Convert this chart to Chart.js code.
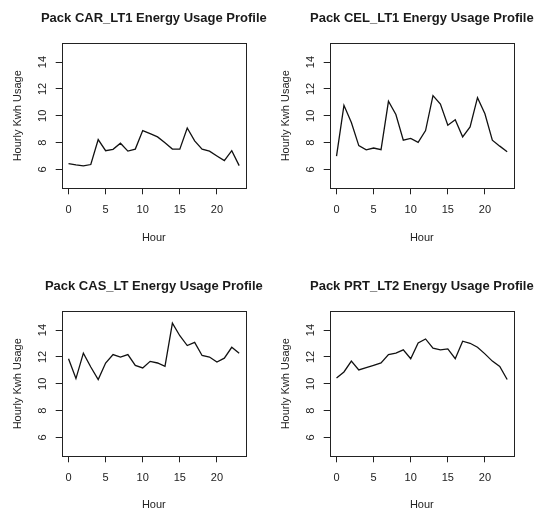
<!DOCTYPE html>
<html>
<head>
<meta charset="utf-8">
<title>Pack Energy Usage Profiles</title>
<script src="https://cdn.jsdelivr.net/npm/chart.js"></script>
<style>
  html, body { margin: 0; padding: 0; background: #fff; overflow: hidden; }
  #wrap { position: relative; width: 537px; height: 510px; overflow: hidden; }
  canvas { position: absolute; }
</style>
</head>
<body>
<div id="wrap">
  <canvas id="c0" width="268" height="255" style="left:0px;top:0px"></canvas>
  <canvas id="c1" width="269" height="255" style="left:268px;top:0px"></canvas>
  <canvas id="c2" width="268" height="255" style="left:0px;top:268px"></canvas>
  <canvas id="c3" width="269" height="255" style="left:268px;top:268px"></canvas>
</div>
<script>
const hours = [0, 1, 2, 3, 4, 5, 6, 7, 8, 9, 10, 11, 12, 13, 14, 15, 16, 17, 18, 19, 20, 21, 22, 23];
const xTicks = [0, 5, 10, 15, 20];
const yTicks = [6, 8, 10, 12, 14];
const packNames = ['CAR_LT1', 'CEL_LT1', 'CAS_LT', 'PRT_LT2'];

const carLt1 = [6.44, 6.34, 6.27, 6.37, 8.23, 7.40, 7.50, 7.96, 7.37, 7.52, 8.90, 8.67,
                8.43, 7.99, 7.52, 7.52, 9.09, 8.13, 7.52, 7.37, 7.01, 6.66, 7.40, 6.29];
const celLt1 = [7.0, 10.78, 9.5, 7.78, 7.47, 7.6, 7.48, 11.08, 10.1, 8.18, 8.31, 8.02,
                8.9, 11.5, 10.88, 9.3, 9.7, 8.43, 9.17, 11.35, 10.15, 8.18, 7.74, 7.33];
const casLt  = [11.87, 10.39, 12.28, 11.25, 10.32, 11.55, 12.18, 11.99, 12.18, 11.37, 11.18, 11.67,
                11.55, 11.30, 14.52, 13.58, 12.85, 13.09, 12.11, 11.99, 11.62, 11.91, 12.72, 12.28];
const prtLt2 = [10.44, 10.88, 11.69, 11.03, 11.20, 11.37, 11.55, 12.18, 12.28, 12.53, 11.87, 13.04,
                13.34, 12.65, 12.53, 12.60, 11.87, 13.17, 13.02, 12.72, 12.23, 11.69, 11.30, 10.32];

const series = [carLt1, celLt1, casLt, prtLt2];
const hourPad = [10, 10, 11, 11];

const FONT = '"Liberation Sans", Arial, sans-serif';
Chart.defaults.font.family = FONT;
Chart.defaults.color = '#222';

// R-style frame around the plot region plus the main title centred over it
const framePlugin = {
  id: 'frame',
  afterDatasetsDraw(chart, args, opts) {
    const a = chart.chartArea;
    const ctx = chart.ctx;
    ctx.save();
    ctx.strokeStyle = '#222';
    ctx.lineWidth = 1;
    ctx.strokeRect(Math.round(a.left) + 0.5, Math.round(a.top) + 0.5,
                   Math.round(a.right - a.left), Math.round(a.bottom - a.top));
    ctx.fillStyle = '#1a1a1a';
    ctx.font = 'bold 13px ' + FONT;
    ctx.textAlign = 'center';
    ctx.textBaseline = 'middle';
    ctx.fillText(opts.text, (a.left + a.right) / 2, 18);
    ctx.restore();
  }
};

series.forEach(function(values, i) {
  const canvas = document.getElementById('c' + i);
  new Chart(canvas.getContext('2d'), {
    type: 'line',
    data: {
      datasets: [{
        data: values.map((v, k) => ({ x: hours[k], y: v })),
        borderColor: '#111',
        borderWidth: 1.3,
        pointRadius: 0,
        tension: 0,
        fill: false
      }]
    },
    options: {
      responsive: false,
      animation: false,
      devicePixelRatio: 1,
      layout: { padding: { top: 43.3, right: canvas.width - 246, bottom: 0, left: 0 } },
      plugins: {
        legend: { display: false },
        tooltip: { enabled: false },
        title: { display: false },
        frame: { text: 'Pack ' + packNames[i] + ' Energy Usage Profile' }
      },
      scales: {
        x: {
          type: 'linear',
          min: -0.92,
          max: 23.92,
          afterBuildTicks: s => { s.ticks = xTicks.map(v => ({ value: v })); },
          afterFit: s => { s.height = 255 - 188.3; },
          grid: { display: true, drawOnChartArea: false, drawTicks: true, tickLength: 6, color: '#222' },
          border: { display: false },
          ticks: { font: { size: 11 }, padding: 9.5, color: '#222', maxRotation: 0 },
          title: { display: true, text: 'Hour', font: { size: 11 }, padding: { top: 0, bottom: hourPad[i] } }
        },
        y: {
          min: 4.6,
          max: 15.4,
          afterBuildTicks: s => { s.ticks = yTicks.map(v => ({ value: v })); },
          afterFit: s => { s.width = 61.7; },
          grid: { display: true, drawOnChartArea: false, drawTicks: true, tickLength: 6, color: '#222' },
          border: { display: false },
          ticks: { font: { size: 11 }, padding: 6.5, color: '#222', minRotation: 90, maxRotation: 90, crossAlign: 'center' },
          title: { display: true, text: 'Hourly Kwh Usage', font: { size: 11 }, padding: { top: 11, bottom: 0 } }
        }
      }
    },
    plugins: [framePlugin]
  });
});
</script>
</body>
</html>
